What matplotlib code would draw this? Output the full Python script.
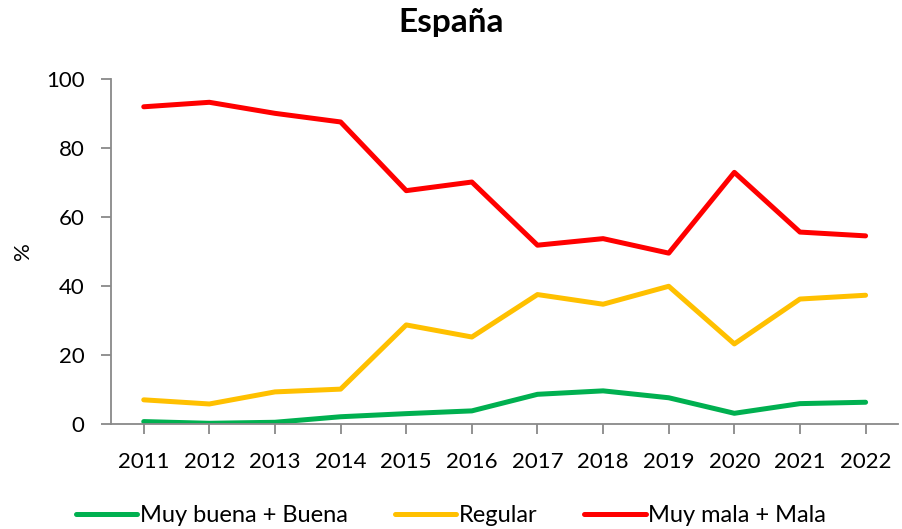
import matplotlib
matplotlib.use("Agg")
import matplotlib.pyplot as plt

years = ["2011", "2012", "2013", "2014", "2015", "2016", "2017", "2018", "2019", "2020", "2021", "2022"]
buena = [0.7, 0.2, 0.5, 2.1, 3.0, 3.8, 8.6, 9.6, 7.6, 3.1, 5.9, 6.3]
regular = [7.0, 5.8, 9.3, 10.1, 28.7, 25.2, 37.5, 34.7, 39.9, 23.2, 36.2, 37.3]
mala = [91.9, 93.2, 90.0, 87.5, 67.6, 70.1, 51.8, 53.7, 49.5, 72.9, 55.6, 54.5]
labels = ["Muy buena + Buena", "Regular", "Muy mala + Mala"]
colors = ["#00B050", "#FFC000", "#FF0000"]

plt.rcParams['font.family'] = ['Lato', 'DejaVu Sans']

fig = plt.figure(figsize=(9.02, 5.29), dpi=100)
ax = fig.add_axes([0.123, 0.1985, 0.873, 0.6525])
x = list(range(len(years)))
for vals, lab, c in zip([buena, regular, mala], labels, colors):
    ax.plot(x, vals, color=c, lw=3.6, label=lab, solid_capstyle='round', solid_joinstyle='round')

ax.set_xlim(-0.5, len(years) - 0.5)
ax.set_ylim(0, 100)
ax.set_yticks([0, 20, 40, 60, 80, 100])
ax.set_xticks(x)
ax.set_xticklabels(years)
gray = "#898989"
for s in ['top', 'right']:
    ax.spines[s].set_visible(False)
for s in ['left', 'bottom']:
    ax.spines[s].set_color(gray)
    ax.spines[s].set_linewidth(1.3)
ax.tick_params(axis='both', colors=gray, length=7, width=1.3, labelsize=16, labelcolor='black')
ax.tick_params(axis='x', pad=13)
ax.tick_params(axis='y', pad=12)
ax.set_ylabel("%", fontsize=16, labelpad=9)
fig.suptitle("España", fontsize=24, fontweight='bold', y=0.985)

fig.legend(loc='lower center', bbox_to_anchor=(0.5, -0.035), ncol=3, frameon=False,
           fontsize=17, handlelength=2.6, handletextpad=0.1, columnspacing=2.0)

fig.savefig("out.png", dpi=100)
